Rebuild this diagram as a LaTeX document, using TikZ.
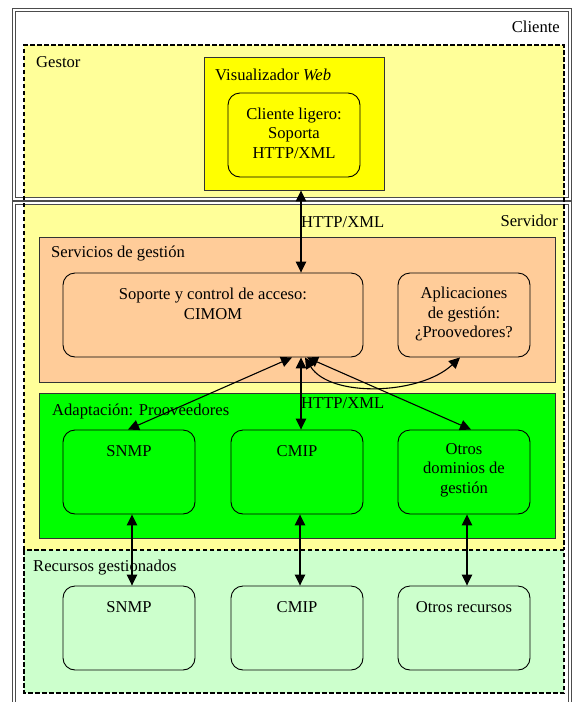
\documentclass[tikz,border=0pt]{standalone}
\usepackage{fontspec}
\setmainfont{Liberation Serif}
\usetikzlibrary{arrows.meta,fit,calc}
\definecolor{lyellow}{HTML}{FFFF99}
\definecolor{vyellow}{HTML}{FFFF00}
\definecolor{peach}{HTML}{FFCC99}
\definecolor{vgreen}{HTML}{00FF00}
\definecolor{lgreen}{HTML}{CCFFCC}
\begin{document}
\begin{tikzpicture}[x=1pt,y=-1pt,
  every node/.style={font=\fontsize{16.6}{19.6}\selectfont, inner sep=0pt},
  region/.style={dash pattern=on 4.5pt off 2.5pt, line width=1.3pt},
  frame/.style={draw=black!70, line width=1pt, double=white, double distance=1.4pt},
  sqbox/.style={draw=black!80, line width=0.9pt, inner sep=0pt},
  rbox/.style={draw=black, line width=0.9pt, rounded corners=12pt, inner sep=0pt},
  conn/.style={line width=1.1pt, <->, >={Triangle[length=11pt,width=10.5pt]}},
  txt/.style={align=center}
]
\useasboundingbox (0,0) rectangle (573,702);
\clip (0,0) rectangle (573,702);
\fill[white] (0,0) rectangle (573,702);
% regions
\fill[lyellow] (24,45) rectangle (564,550);
\fill[lgreen] (24,550) rectangle (564,693);
\draw[frame] (14,10) rectangle (570,199);
\draw[frame] (14,203) rectangle (570,720);
\draw[region] (24,550) -- (24,45) -- (564,45) -- (564,550);
\draw[region] (24,550) rectangle (564,693);
% region labels
\node[anchor=east] (lcliente) at (560,27) {Cliente};
\node[anchor=west] (lgestor) at (36,62) {Gestor};
\node[anchor=east] (lservidor) at (558,221) {Servidor};
\node[anchor=west] (lrecursos) at (33,568) {Recursos gestionados};
% Visualizador
\node[sqbox, fill=vyellow, fit={(204,57) (384,190)}] (vis) {};
\node[anchor=west] (lvis) at (215,75) {Visualizador \textit{Web}};
\node[rbox, fit={(228,93) (360,177)}] (ligero) {};
\node[txt] (tligero) at (294,133) {Cliente ligero:\\Soporta\\HTTP/XML};
% Servicios
\node[sqbox, fill=peach, fit={(39,237) (555,382)}] (serv) {};
\node[anchor=west] (lserv) at (51,254) {Servicios de gestión};
\node[rbox, fit={(63,273) (363,357)}] (cimom) {};
\node[txt] (tcimom) at (213,304) {Soporte y control de acceso:\\CIMOM};
\node[rbox, fit={(398,273) (530,357)}] (aplic) {};
\node[txt] (taplic) at (464,314) {Aplicaciones\\de gestión:\\¿Proovedores?};
% Adaptacion
\node[sqbox, fill=vgreen, fit={(39,393) (555,538)}] (adapt) {};
\node[anchor=west] (ladapt) at (52,411) {Adaptación: Prooveedores};
\node[rbox, fit={(63,430) (195,514)}] (snmpA) {};
\node (tsnmpA) at (129,451) {SNMP};
\node[rbox, fit={(231,430) (363,514)}] (cmipA) {};
\node (tcmipA) at (297,451) {CMIP};
\node[rbox, fit={(398,430) (530,514)}] (otrosA) {};
\node[txt] (totrosA) at (464,470) {Otros\\dominios de\\gestión};
% Recursos
\node[rbox, fit={(63,586) (195,670)}] (snmpB) {};
\node (tsnmpB) at (129,607) {SNMP};
\node[rbox, fit={(231,586) (363,670)}] (cmipB) {};
\node (tcmipB) at (297,607) {CMIP};
\node[rbox, fit={(398,586) (530,670)}] (otrosB) {};
\node (totrosB) at (464,607) {Otros recursos};
% connectors
\coordinate (ax) at (301,0);
\draw[conn] (vis.south -| ax) -- (cimom.north -| ax);
\node[anchor=west] (http1) at (301,222) {HTTP/XML};
\draw[conn] ($(cimom.south)+(79,0)$) -- ($(snmpA.north)+(-1,0)$);
\draw[conn] ($(cimom.south)+(88,0)$) -- ($(cmipA.north)+(4,0)$);
\draw[conn] ($(cimom.south)+(94,0)$) -- ($(otrosA.north)+(7,0)$);
\draw[conn] ($(cimom.south)+(92,0)$) .. controls (330,398) and (420,395) .. ($(aplic.south)+(-4,0)$);
\node[anchor=west] (http2) at (301,403) {HTTP/XML};
\draw[conn] ($(snmpA.south)+(3,0)$) -- ($(snmpB.north)+(3,0)$);
\draw[conn] ($(cmipA.south)+(3,0)$) -- ($(cmipB.north)+(3,0)$);
\draw[conn] ($(otrosA.south)+(3,0)$) -- ($(otrosB.north)+(3,0)$);
\end{tikzpicture}
\end{document}
